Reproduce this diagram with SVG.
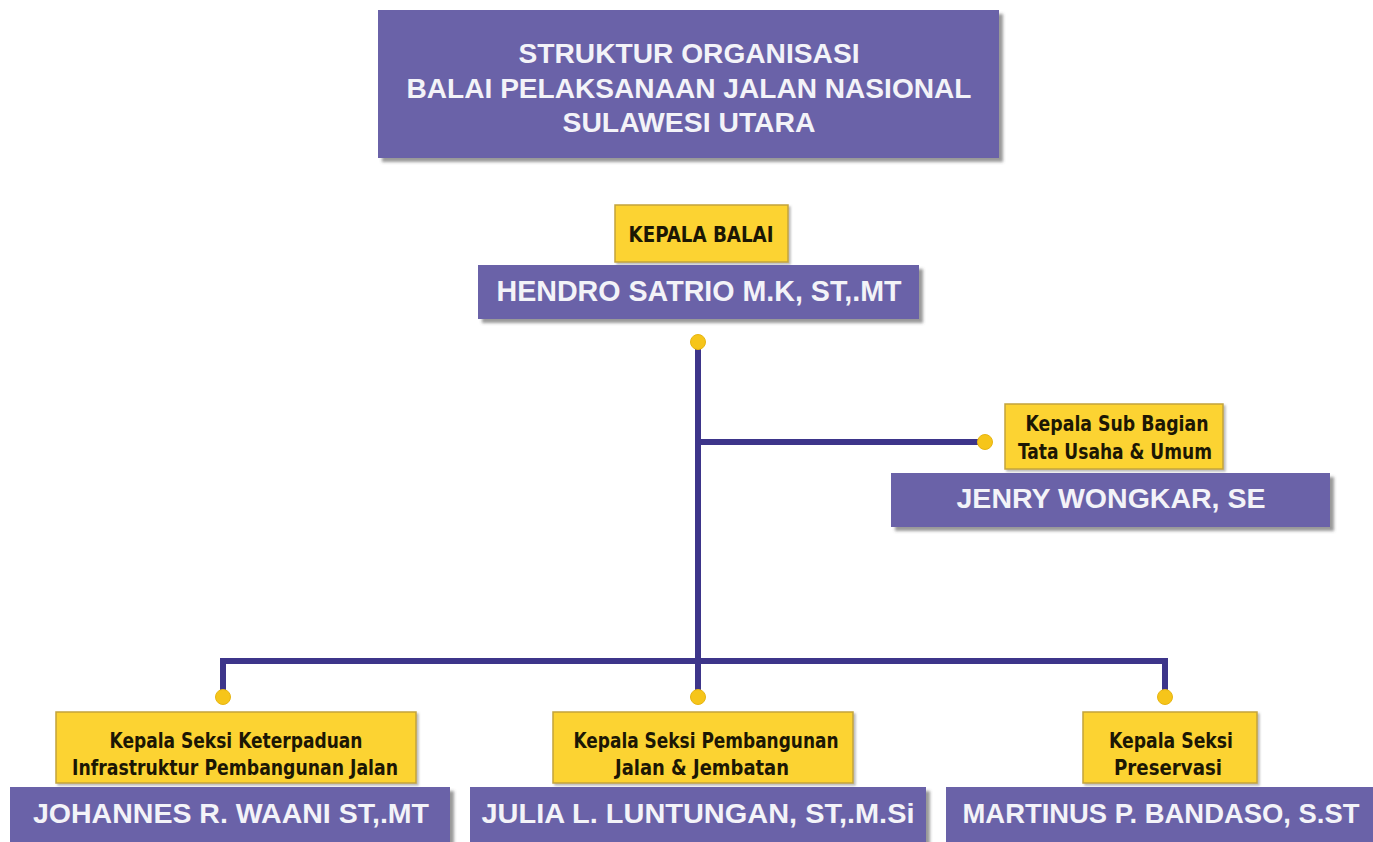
<svg xmlns="http://www.w3.org/2000/svg" width="1373" height="842" viewBox="0 0 1373 842">
<defs>
<filter id="sh" x="-5%" y="-10%" width="115%" height="140%">
<feDropShadow dx="4" dy="4" stdDeviation="1.8" flood-color="#555" flood-opacity="0.6"/>
</filter>
<filter id="shs" x="-5%" y="-10%" width="115%" height="140%">
<feDropShadow dx="2" dy="2" stdDeviation="1.2" flood-color="#777" flood-opacity="0.5"/>
</filter>
<style>
.pb{fill:#6a62a8;filter:url(#sh)}
.yb{fill:#fcd331;stroke:#c3a43c;stroke-width:1.5;filter:url(#shs)}
.pt{font-family:"Liberation Sans",Arial,sans-serif;font-weight:bold;fill:#f3f3f8;text-anchor:middle}
.yt{font-family:"Liberation Sans Narrow","DejaVu Sans Condensed","Liberation Sans",sans-serif;font-stretch:condensed;font-weight:bold;fill:#1c1704;text-anchor:middle;font-size:22px}
.ln{stroke:#3d358a;stroke-width:6;fill:none}
.dot{fill:#f6c51a;stroke:#e7b512;stroke-width:1}
</style>
</defs>
<rect width="1373" height="842" fill="#ffffff"/>

<g id="connectors">
<path class="ln" d="M698 342 V661"/>
<path class="ln" d="M698 442 H985"/>
<path class="ln" d="M223 697 V661 H1165 V697"/>
<path class="ln" d="M698 661 V697"/>
<circle class="dot" cx="698" cy="342" r="7.5"/>
<circle class="dot" cx="985" cy="442" r="7.5"/>
<circle class="dot" cx="223" cy="697" r="7.5"/>
<circle class="dot" cx="698" cy="697" r="7.5"/>
<circle class="dot" cx="1165" cy="697" r="7.5"/>
</g>

<g id="title">
<rect class="pb" x="378" y="10" width="621" height="148"/>
<text class="pt" x="689" y="63" font-size="27" textLength="341" lengthAdjust="spacingAndGlyphs">STRUKTUR ORGANISASI</text>
<text class="pt" x="689" y="98" font-size="27" textLength="565" lengthAdjust="spacingAndGlyphs">BALAI PELAKSANAAN JALAN NASIONAL</text>
<text class="pt" x="689" y="132" font-size="27" textLength="253" lengthAdjust="spacingAndGlyphs">SULAWESI UTARA</text>
</g>

<g id="kepala-balai">
<rect class="yb" x="615" y="205" width="173" height="57"/>
<text class="yt" x="701" y="242" font-size="19" textLength="145" lengthAdjust="spacingAndGlyphs">KEPALA BALAI</text>
<rect class="pb" x="478" y="265" width="441" height="54"/>
<text class="pt" x="699" y="301" font-size="29" textLength="405" lengthAdjust="spacingAndGlyphs">HENDRO SATRIO M.K, ST,.MT</text>
</g>

<g id="kasubag">
<rect class="yb" x="1005" y="404" width="218" height="65"/>
<text class="yt" x="1117" y="431" textLength="183" lengthAdjust="spacingAndGlyphs">Kepala Sub Bagian</text>
<text class="yt" x="1115" y="459" textLength="194" lengthAdjust="spacingAndGlyphs">Tata Usaha &amp; Umum</text>
<rect class="pb" x="891" y="473" width="439" height="54"/>
<text class="pt" x="1111" y="508" font-size="27" textLength="309" lengthAdjust="spacingAndGlyphs">JENRY WONGKAR, SE</text>
</g>

<g id="seksi-keterpaduan">
<rect class="yb" x="56" y="712" width="360" height="71"/>
<text class="yt" x="236" y="748" textLength="253" lengthAdjust="spacingAndGlyphs">Kepala Seksi Keterpaduan</text>
<text class="yt" x="235" y="775" textLength="326" lengthAdjust="spacingAndGlyphs">Infrastruktur Pembangunan Jalan</text>
<rect class="pb" x="10" y="787" width="440" height="60"/>
<text class="pt" x="231" y="823" font-size="28" textLength="396" lengthAdjust="spacingAndGlyphs">JOHANNES R. WAANI ST,.MT</text>
</g>

<g id="seksi-pembangunan">
<rect class="yb" x="553" y="712" width="300" height="71"/>
<text class="yt" x="706" y="748" textLength="265" lengthAdjust="spacingAndGlyphs">Kepala Seksi Pembangunan</text>
<text class="yt" x="702" y="775" textLength="174" lengthAdjust="spacingAndGlyphs">Jalan &amp; Jembatan</text>
<rect class="pb" x="470" y="787" width="456" height="60"/>
<text class="pt" x="698" y="823" font-size="28" textLength="433" lengthAdjust="spacingAndGlyphs">JULIA L. LUNTUNGAN, ST,.M.Si</text>
</g>

<g id="seksi-preservasi">
<rect class="yb" x="1083" y="712" width="174" height="71"/>
<text class="yt" x="1171" y="748" textLength="124" lengthAdjust="spacingAndGlyphs">Kepala Seksi</text>
<text class="yt" x="1168" y="775" textLength="108" lengthAdjust="spacingAndGlyphs">Preservasi</text>
<rect class="pb" x="946" y="787" width="440" height="60"/>
<text class="pt" x="1161" y="823" font-size="28" textLength="397" lengthAdjust="spacingAndGlyphs">MARTINUS P. BANDASO, S.ST</text>
</g>
</svg>
